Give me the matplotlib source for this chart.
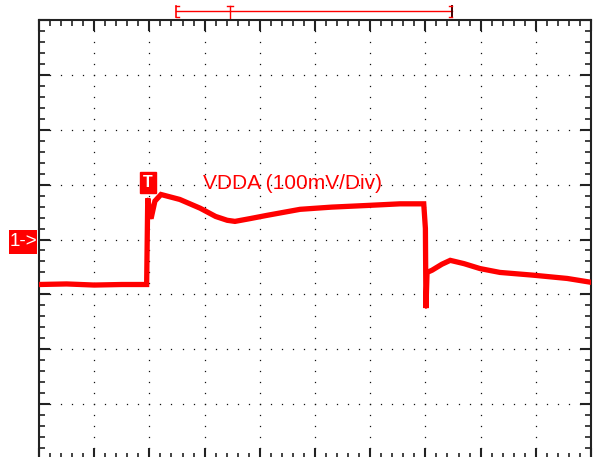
import matplotlib.pyplot as plt
import numpy as np
from matplotlib.ticker import MultipleLocator
from matplotlib.patches import Rectangle

# trace: time in divisions, voltage in mV (100 mV/div)
t_div = [0.0, 0.5, 1.0, 1.5, 1.95, 1.97, 2.03, 2.1, 2.21, 2.55, 2.92, 3.2,
         3.41, 3.55, 3.82, 4.13, 4.73, 5.3, 5.94, 6.54, 6.97, 7.0, 7.01,
         7.03, 7.12, 7.3, 7.45, 7.7, 7.99, 8.35, 8.95, 9.57, 10.0]
v_mv = [-82, -81, -83, -82, -82, 75, 38, 70, 82, 73, 57, 42,
        35, 33, 38, 44, 55, 59, 62, 65, 65, 20, -125,
        -60, -56, -45, -38, -44, -53, -60, -65, -71, -78]

label_text = 'VDDA (100mV/Div)'
trig_div = 1.97
red = '#ff0000'

fig = plt.figure(figsize=(6.01, 4.57), dpi=100)
ax = fig.add_axes([39/601, -2/457, 552/601, 439/457])
ax.set_xlim(0, 10)
ax.set_ylim(-400, 400)

# graticule: dots along the major lines at every minor step
for gx in np.arange(1, 10):
    ys = np.arange(-380, 381, 20)
    ax.plot(np.full(len(ys), gx), ys, ls='none', marker='s', ms=0.9,
            mew=0, color='#111111', zorder=1)
for gy in np.arange(-300, 301, 100):
    xs = np.arange(0.2, 9.9, 0.2)
    ax.plot(xs, np.full(len(xs), gy), ls='none', marker='s', ms=0.9,
            mew=0, color='#111111', zorder=1)

ax.plot(t_div, v_mv, color=red, lw=3.8, solid_joinstyle='miter', zorder=3)
ax.plot(t_div, v_mv, color=red, lw=1.2, zorder=3)

ax.xaxis.set_major_locator(MultipleLocator(1))
ax.xaxis.set_minor_locator(MultipleLocator(0.2))
ax.yaxis.set_major_locator(MultipleLocator(100))
ax.yaxis.set_minor_locator(MultipleLocator(20))
ax.tick_params(which='both', direction='in', top=True, right=True,
               labelbottom=False, labelleft=False, color='#222222')
ax.tick_params(which='major', length=8, width=1.5)
ax.tick_params(which='minor', length=4.5, width=1.2)
for s in ax.spines.values():
    s.set_linewidth(1.5)
    s.set_color('#222222')

ax.text(2.98, 102, label_text, color=red, fontsize=15,
        family='Liberation Sans', va='center', ha='left')

# trigger marker
ax.text(trig_div, 104, 'T', color='white', fontsize=11.5, fontweight='bold',
        family='Liberation Sans', ha='center', va='center', zorder=5,
        bbox=dict(boxstyle='square,pad=0.2', fc=red, ec=red))

# channel 1 reference marker
ax.add_patch(Rectangle((9/601, 1 - 254/457), 28/601, 24/457,
                       transform=fig.transFigure, fc=red, ec='none',
                       clip_on=False, zorder=4))
ax.text(-0.29, -4, '1->', color='white', fontsize=13.5, zorder=5,
        family='Liberation Sans', ha='center', va='center', clip_on=False)

# memory position bar above the screen
yb = 416
ax.plot([2.48, 7.48], [yb, yb], color=red, lw=1, clip_on=False)
ax.plot([2.48, 2.48], [yb - 10, yb + 10], color=red, lw=1.2, clip_on=False)
ax.plot([2.48, 2.54], [yb + 10, yb + 10], color=red, lw=1, clip_on=False)
ax.plot([2.48, 2.54], [yb - 10, yb - 10], color=red, lw=1, clip_on=False)
ax.plot([7.48, 7.48], [yb - 10, yb + 10], color='#440000', lw=1.4, clip_on=False)
ax.plot([7.42, 7.48], [yb + 10, yb + 10], color=red, lw=1, clip_on=False)
ax.plot([7.42, 7.48], [yb - 10, yb - 10], color=red, lw=1, clip_on=False)
ax.plot([3.46, 3.46], [yb - 12, yb + 10], color=red, lw=1, clip_on=False)
ax.plot([3.40, 3.52], [yb + 10, yb + 10], color=red, lw=1, clip_on=False)

fig.savefig('out.png', dpi=100)
